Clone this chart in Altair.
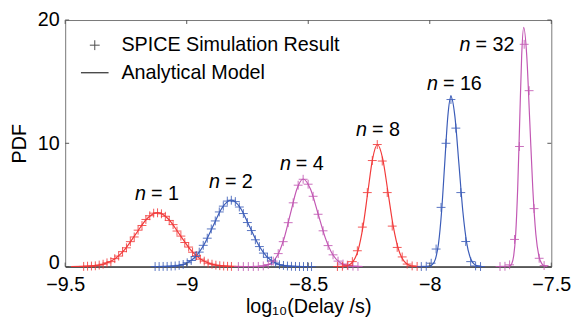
import altair as alt
import pandas as pd

# ---------------- data ----------------
series = ["n1", "n2", "n4", "n8", "n16", "n32"]
series_colors = ["#f23a3a", "#3b5cb8", "#c257b3", "#f23a3a", "#3b5cb8", "#c257b3"]

# Analytical model curves
model_n1_x = [-9.476, -9.4315, -9.387, -9.3425, -9.298, -9.2535, -9.209, -9.1645, -9.12,
              -9.0755, -9.031, -8.9865, -8.942, -8.8975, -8.853, -8.8085, -8.764]
model_n1_y = [0.001, 0.010, 0.049, 0.192, 0.591, 1.419, 2.650, 3.857, 4.37,
              3.857, 2.650, 1.419, 0.591, 0.192, 0.049, 0.010, 0.001]
model_n2_x = [-9.117, -9.0795, -9.042, -9.0045, -8.967, -8.9295, -8.892, -8.8545, -8.817,
              -8.7795, -8.742, -8.7045, -8.667, -8.6295, -8.592, -8.5545, -8.517]
model_n2_y = [0.002, 0.012, 0.060, 0.237, 0.731, 1.753, 3.275, 4.766, 5.4,
              4.766, 3.275, 1.753, 0.731, 0.237, 0.060, 0.012, 0.002]
model_n4_x = [-8.729, -8.703, -8.677, -8.651, -8.625, -8.599, -8.573, -8.547, -8.521,
              -8.4905, -8.46, -8.4295, -8.399, -8.3685, -8.338, -8.3075, -8.277]
model_n4_y = [0.002, 0.016, 0.079, 0.312, 0.961, 2.305, 4.306, 6.266, 7.1,
              6.266, 4.306, 2.305, 0.961, 0.312, 0.079, 0.016, 0.002]
model_n8_x = [-8.3739, -8.3541, -8.3343, -8.3145, -8.2947, -8.2749, -8.2551, -8.2353, -8.2155,
              -8.1936, -8.1717, -8.1498, -8.1279, -8.106, -8.0841, -8.0622, -8.0403]
model_n8_y = [0.003, 0.022, 0.110, 0.435, 1.339, 3.215, 6.004, 8.737, 9.9,
              8.737, 6.004, 3.215, 1.339, 0.435, 0.110, 0.022, 0.003]
model_n16_x = [-8.015, -8.0023, -7.9895, -7.9768, -7.964, -7.9513, -7.9385, -7.9258, -7.913,
               -7.8967, -7.8803, -7.864, -7.8476, -7.8313, -7.8149, -7.7986, -7.7822]
model_n16_y = [0.004, 0.030, 0.153, 0.606, 1.867, 4.481, 8.370, 12.179, 13.8,
               12.179, 8.370, 4.481, 1.867, 0.606, 0.153, 0.030, 0.004]
model_n32_x = [-7.6796, -7.6714, -7.6631, -7.6549, -7.6466, -7.6384, -7.6301, -7.6219, -7.6136,
               -7.6011, -7.5886, -7.5761, -7.5636, -7.5511, -7.5386, -7.5261, -7.5136]
model_n32_y = [0.006, 0.043, 0.215, 0.852, 2.625, 6.299, 11.766, 17.121, 19.4,
               17.121, 11.766, 6.299, 2.625, 0.852, 0.215, 0.043, 0.006]

# SPICE simulation histograms
sim_n1_x = [-9.424, -9.408, -9.392, -9.376, -9.36, -9.344, -9.328, -9.312, -9.296, -9.28,
            -9.264, -9.248, -9.232, -9.216, -9.2, -9.184, -9.168, -9.152, -9.136, -9.12,
            -9.104, -9.088, -9.072, -9.056, -9.04, -9.024, -9.008, -8.992, -8.976, -8.96,
            -8.944, -8.928, -8.912, -8.896, -8.88, -8.864, -8.848, -8.832, -8.816]
sim_n1_y = [0.01, 0.03, 0.04, 0.06, 0.12, 0.19, 0.30, 0.40, 0.64, 0.85,
            1.21, 1.52, 2.02, 2.40, 2.95, 3.33, 3.82, 4.12, 4.33, 4.36,
            4.28, 4.08, 3.74, 3.40, 2.88, 2.47, 1.95, 1.58, 1.16, 0.88,
            0.60, 0.44, 0.27, 0.19, 0.11, 0.07, 0.04, 0.02, 0.01]
sim_n2_x = [-9.13, -9.1135, -9.097, -9.0805, -9.064, -9.0475, -9.031, -9.0145, -8.998, -8.9815,
            -8.965, -8.9485, -8.932, -8.9155, -8.899, -8.8825, -8.866, -8.8495, -8.833, -8.8165,
            -8.80, -8.7835, -8.767, -8.7505, -8.734, -8.7175, -8.701, -8.6845, -8.668, -8.6515,
            -8.635, -8.6185, -8.602, -8.5855, -8.569, -8.5525, -8.536, -8.5195, -8.503, -8.4865]
sim_n2_y = [0.00, 0.00, 0.01, 0.01, 0.03, 0.05, 0.10, 0.17, 0.31, 0.49,
            0.81, 1.17, 1.72, 2.30, 3.05, 3.70, 4.43, 4.90, 5.31, 5.38,
            5.27, 4.83, 4.30, 3.57, 2.92, 2.17, 1.62, 1.09, 0.75, 0.45,
            0.29, 0.15, 0.09, 0.04, 0.02, 0.01, 0.00, 0.00, 0.00, 0.00]
sim_n4_x = [-8.7875, -8.767, -8.7465, -8.726, -8.7055, -8.685, -8.6645, -8.644, -8.6235, -8.603,
            -8.5825, -8.562, -8.5415, -8.521, -8.5005, -8.48, -8.4595, -8.439, -8.4185, -8.398,
            -8.3775, -8.357, -8.3365, -8.316, -8.2955]
sim_n4_y = [0.00, 0.00, 0.00, 0.00, 0.01, 0.05, 0.16, 0.44, 1.05, 2.02,
            3.56, 5.17, 6.60, 7.08, 6.68, 5.70, 4.24, 2.90, 1.70, 0.95,
            0.44, 0.20, 0.07, 0.03, 0.01]
sim_n8_x = [-8.38, -8.3595, -8.339, -8.3185, -8.298, -8.2775, -8.257, -8.2365, -8.216,
            -8.1955, -8.175, -8.1545, -8.134, -8.1135, -8.093, -8.0725, -8.052]
sim_n8_y = [0.00, 0.02, 0.11, 0.40, 1.28, 3.20, 6.00, 8.60, 9.90,
            8.56, 6.00, 3.28, 1.55, 0.78, 0.20, 0.05, 0.01]
sim_n16_x = [-8.0348, -8.0145, -7.9942, -7.9739, -7.9536, -7.9333, -7.913,
             -7.8927, -7.8724, -7.8521, -7.8318, -7.8115, -7.7912]
sim_n16_y = [0.00, 0.02, 0.27, 1.42, 4.80, 10.00, 13.55, 11.23, 6.00, 2.03, 0.40, 0.05, 0.00]
sim_n32_x = [-7.711, -7.6907, -7.6716, -7.6513, -7.631, -7.6116, -7.5913, -7.571, -7.5499, -7.5296]
sim_n32_y = [0.00, 0.02, 0.14, 2.20, 9.74, 18.03, 14.27, 4.70, 0.67, 0.08]

# annotation labels "n = k"
label_nums = ["1", "2", "4", "8", "16", "32"]
label_x = [-9.147, -8.843, -8.551, -8.238, -7.946, -7.812]
label_y = [5.42, 6.38, 7.82, 10.62, 14.3, 17.5]

x_ticks = [-9.5, -9, -8.5, -8, -7.5]
y_ticks = [0, 10, 20]

# ---------------- build tables ----------------
models = [model_n1_x, model_n2_x, model_n4_x, model_n8_x, model_n16_x, model_n32_x]
models_y = [model_n1_y, model_n2_y, model_n4_y, model_n8_y, model_n16_y, model_n32_y]
sims = [sim_n1_x, sim_n2_x, sim_n4_x, sim_n8_x, sim_n16_x, sim_n32_x]
sims_y = [sim_n1_y, sim_n2_y, sim_n4_y, sim_n8_y, sim_n16_y, sim_n32_y]

model_rows, sim_rows = [], []
for s, xs, ys in zip(series, models, models_y):
    for a, b in zip(xs, ys):
        model_rows.append({"series": s, "x": a, "y": b})
for s, xs, ys in zip(series, sims, sims_y):
    for a, b in zip(xs, ys):
        sim_rows.append({"series": s, "x": a, "y": b})
model_df = pd.DataFrame(model_rows)
sim_df = pd.DataFrame(sim_rows)
label_df = pd.DataFrame({"x": label_x, "y": label_y,
                         "eq": ["= " + k for k in label_nums]})

W, H = 493, 250
FONT = "Liberation Sans"

xscale = alt.Scale(domain=[-9.5, -7.5], nice=False, zero=False)
yscale = alt.Scale(domain=[0, 20], nice=False)
color = alt.Color("series:N", scale=alt.Scale(domain=series, range=series_colors), legend=None)

x_enc = alt.X("x:Q", scale=xscale,
              axis=alt.Axis(values=x_ticks, format="~g", title="log₁₀(Delay /s)",
                            ticks=False, labelPadding=8, titlePadding=3, labelFlush=False,
                            labelFontSize=20, domainColor="black", grid=False))
y_enc = alt.Y("y:Q", scale=yscale,
              axis=alt.Axis(values=y_ticks, title="PDF", ticks=False, labelPadding=6,
                            titlePadding=8, domain=False, grid=False, labelFontSize=20,
                            labelOffset={"condition": {"test": "datum.value === 0", "value": -4},
                                         "value": 0}))

lines = alt.Chart(model_df).mark_line(interpolate="monotone", strokeWidth=1.2).encode(
    x=x_enc, y=y_enc, color=color, detail="series:N")

crosses = alt.Chart(sim_df).mark_point(
    shape="M-1,0L1,0M0,-1L0,1", size=81, filled=False, strokeWidth=1, opacity=0.85
).encode(x="x:Q", y="y:Q", color=color)

lab_n = alt.Chart(label_df).mark_text(
    text="n", font=FONT, fontSize=20, fontStyle="italic", align="right",
    baseline="alphabetic", dx=-5, color="black"
).encode(x="x:Q", y="y:Q")
lab_eq = alt.Chart(label_df).mark_text(
    font=FONT, fontSize=20, align="left", baseline="alphabetic", color="black"
).encode(x="x:Q", y="y:Q", text="eq:N")

one = alt.Data(values=[{"a": 1}])
leg_cross = alt.Chart(one).mark_point(
    shape="M-1,0L1,0M0,-1L0,1", size=100, filled=False, strokeWidth=1, color="black"
).encode(x=alt.value(30), y=alt.value(25.5))
leg_t1 = alt.Chart(one).mark_text(
    text="SPICE Simulation Result", font=FONT, fontSize=20, align="left",
    baseline="middle", color="black"
).encode(x=alt.value(57), y=alt.value(25.5))
leg_line = alt.Chart(one).mark_rule(color="black", strokeWidth=1).encode(
    x=alt.value(16), x2=alt.value(44), y=alt.value(53.5))
leg_t2 = alt.Chart(one).mark_text(
    text="Analytical Model", font=FONT, fontSize=20, align="left",
    baseline="middle", color="black"
).encode(x=alt.value(57), y=alt.value(53.5))

xt_df = pd.DataFrame({"x": x_ticks})
yt_df = pd.DataFrame({"y": y_ticks})
tick_top = alt.Chart(xt_df).mark_rule(color="#555").encode(
    x="x:Q", y=alt.value(0), y2=alt.value(4))
tick_bot = alt.Chart(xt_df).mark_rule(color="#555").encode(
    x="x:Q", y=alt.value(H), y2=alt.value(H - 4))
tick_left = alt.Chart(yt_df).mark_rule(color="#555").encode(
    y="y:Q", x=alt.value(0), x2=alt.value(4))
tick_right = alt.Chart(yt_df).mark_rule(color="#555").encode(
    y="y:Q", x=alt.value(W), x2=alt.value(W - 4))

chart = alt.layer(
    lines, crosses, lab_n, lab_eq, leg_cross, leg_t1, leg_line, leg_t2,
    tick_top, tick_bot, tick_left, tick_right
).properties(
    width=W, height=H,
    autosize=alt.AutoSizeParams(type="none"),
    padding={"left": 58, "top": 10, "right": 22, "bottom": 51},
).configure_view(
    stroke="#777", strokeWidth=1
).configure_axis(
    labelFont=FONT, titleFont=FONT, labelFontSize=20, titleFontSize=20,
    labelColor="black", titleColor="black", titleFontWeight="normal"
)

chart.save("out.html", embed_options={"renderer": "svg", "actions": False})
